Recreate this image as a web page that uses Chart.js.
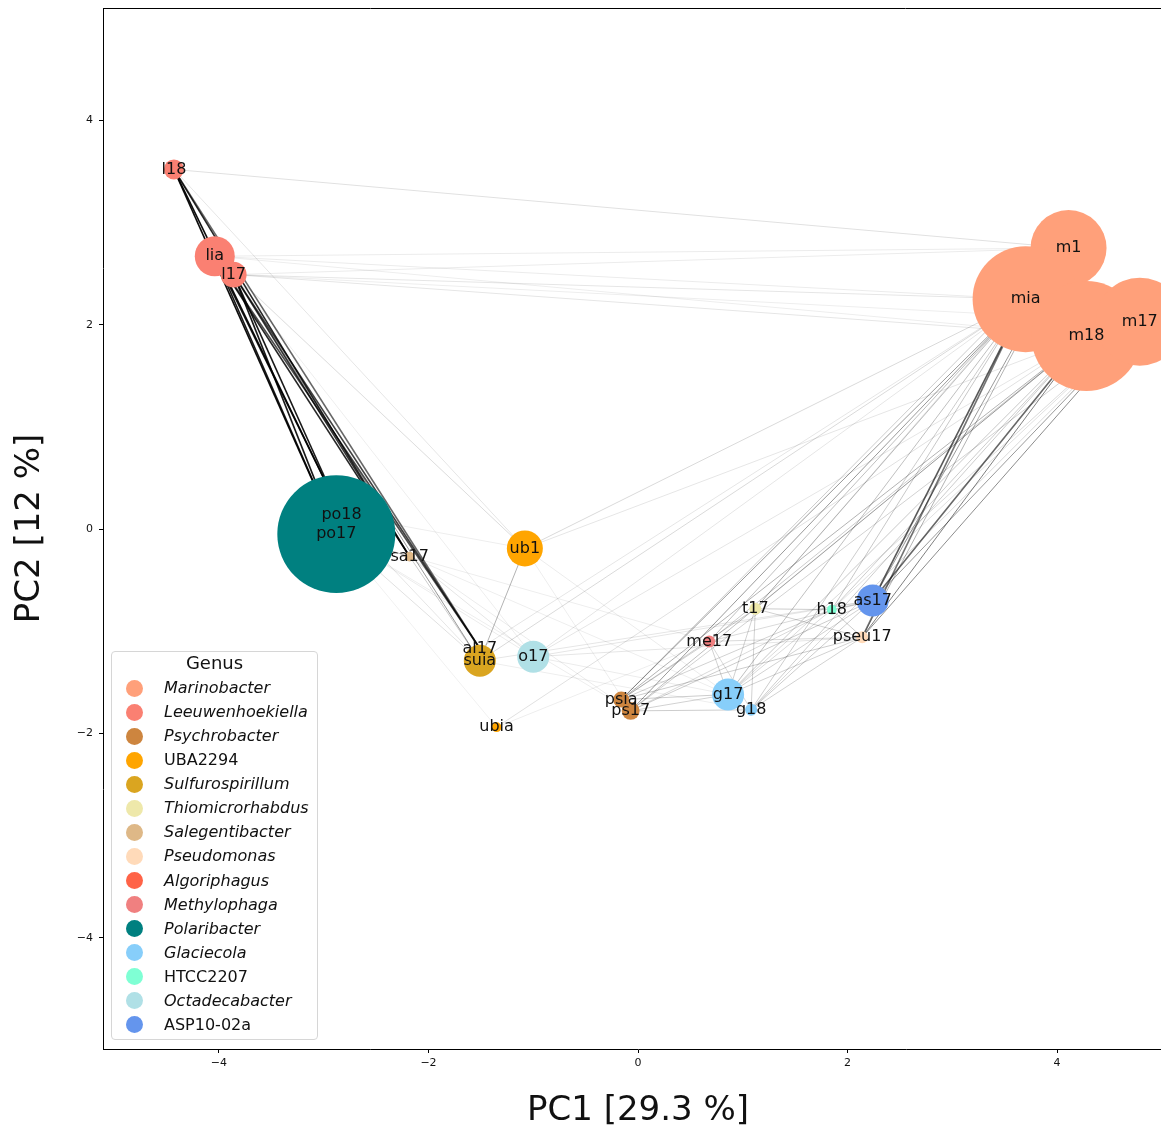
<!DOCTYPE html>
<html>
<head>
<meta charset="utf-8">
<script src="https://cdn.jsdelivr.net/npm/chart.js@4"></script>
<style>
  html, body { margin: 0; padding: 0; background: #fff; overflow: hidden; }
  #wrap { position: relative; width: 1180px; height: 1132px; }
  #chart { display: block; }
  .legend {
    position: absolute; left: 111px; top: 651px; width: 205px; height: 387px;
    border: 1px solid #d6d6d6; border-radius: 4px; background: rgba(255,255,255,0.85);
    font-family: "DejaVu Sans"; color: #111;
  }
  .legend .title { position: absolute; left: 0; right: 0; top: 0; text-align: center; font-size: 18px; line-height: 22px; }
  .legend .row { position: absolute; left: 0; height: 24px; line-height: 24px; font-size: 16px; white-space: nowrap; }
  .legend .dot { position: absolute; left: 14px; top: 3.5px; width: 17px; height: 17px; border-radius: 50%; }
  .legend .lab { position: absolute; left: 52px; top: 0; }
</style>
</head>
<body>
<div id="wrap">
  <canvas id="chart" width="1180" height="1132"></canvas>
  <div class="legend" id="legend"></div>
</div>
<script>
// genus legend
const genusNames = ["Marinobacter", "Leeuwenhoekiella", "Psychrobacter", "UBA2294", "Sulfurospirillum",
  "Thiomicrorhabdus", "Salegentibacter", "Pseudomonas", "Algoriphagus", "Methylophaga",
  "Polaribacter", "Glaciecola", "HTCC2207", "Octadecabacter", "ASP10-02a"];
const genusColors = ["#FFA07A", "#FA8072", "#CD853F", "#FFA500", "#DAA520",
  "#EEE8AA", "#DEB887", "#FFDAB9", "#FF6347", "#F08080",
  "#008080", "#87CEFA", "#7FFFD4", "#B0E0E6", "#6495ED"];
const notItalic = ["UBA2294", "HTCC2207", "ASP10-02a"];

// nodes (PC1, PC2, abundance, genus)
const nodeNames = ["l18", "lia", "l17", "m1", "mia", "m18", "m17", "po18", "po17", "sa17",
  "ub1", "al17", "suia", "o17", "ubia", "t17", "h18", "as17", "pseu17", "me17",
  "psia", "ps17", "g17", "g18"];
const nodeX = [-4.43, -4.04, -3.86, 4.11, 3.70, 4.28, 4.79, -2.83, -2.88, -2.18,
  -1.08, -1.51, -1.51, -1.00, -1.35, 1.12, 1.85, 2.24, 2.14, 0.68,
  -0.16, -0.07, 0.86, 1.08];
const nodeY = [3.52, 2.67, 2.49, 2.75, 2.25, 1.89, 2.03, 0.14, -0.05, -0.27,
  -0.19, -1.17, -1.29, -1.25, -1.94, -0.78, -0.79, -0.70, -1.06, -1.10,
  -1.67, -1.78, -1.62, -1.77];
const nodeAbund = [25, 100, 42, 361, 702, 756, 484, 225, 870, 6,
  81, 2, 64, 64, 6, 9, 6, 64, 9, 9,
  16, 20, 64, 9];
const nodeGenus = ["Leeuwenhoekiella", "Leeuwenhoekiella", "Leeuwenhoekiella", "Marinobacter", "Marinobacter",
  "Marinobacter", "Marinobacter", "Polaribacter", "Polaribacter", "Salegentibacter",
  "UBA2294", "Algoriphagus", "Sulfurospirillum", "Octadecabacter", "UBA2294",
  "Thiomicrorhabdus", "HTCC2207", "ASP10-02a", "Pseudomonas", "Methylophaga",
  "Psychrobacter", "Psychrobacter", "Glaciecola", "Glaciecola"];

// edges: [from, to, correlation strength]
const edges = [
  ["l18", "po18", .95], ["l18", "po17", .95], ["lia", "po18", .9], ["lia", "po17", .9],
  ["l17", "po18", .9], ["l17", "po17", .9], ["l18", "sa17", .85], ["lia", "sa17", .85],
  ["l17", "sa17", .8], ["l18", "al17", .6], ["lia", "al17", .7], ["l17", "al17", .75],
  ["l17", "suia", .4],
  ["l18", "m1", .12], ["l18", "ub1", .1], ["lia", "m1", .08], ["lia", "mia", .08],
  ["lia", "m18", .07], ["l17", "m1", .08], ["l17", "mia", .1], ["l17", "m18", .1],
  ["l17", "m17", .07], ["lia", "ub1", .07], ["l17", "ub1", .08], ["l17", "o17", .07],
  ["po17", "suia", .12], ["po18", "suia", .1], ["po17", "o17", .08], ["po17", "ubia", .06],
  ["po17", "ps17", .07], ["po18", "ub1", .07], ["sa17", "o17", .1], ["sa17", "g17", .07],
  ["sa17", "ps17", .08], ["sa17", "suia", .2], ["po17", "sa17", .3], ["ub1", "suia", .3],
  ["ub1", "mia", .15], ["ub1", "m18", .1], ["ub1", "g17", .08], ["ub1", "ps17", .07],
  ["suia", "mia", .15], ["al17", "mia", .1], ["suia", "as17", .1], ["o17", "mia", .1],
  ["o17", "m18", .1], ["o17", "as17", .1], ["o17", "pseu17", .1], ["o17", "g17", .08],
  ["ubia", "m18", .12], ["ubia", "me17", .07], ["suia", "g18", .07], ["sa17", "me17", .07],
  ["psia", "mia", .4], ["ps17", "mia", .4], ["psia", "m18", .3], ["ps17", "m18", .25],
  ["psia", "m1", .2], ["ps17", "m17", .18], ["me17", "mia", .25], ["me17", "m18", .2],
  ["t17", "mia", .25], ["t17", "m18", .2], ["t17", "m1", .12], ["g17", "mia", .25],
  ["g17", "m18", .22], ["g17", "m17", .15], ["g18", "mia", .2], ["g18", "m18", .2],
  ["g18", "m17", .15], ["h18", "mia", .22], ["h18", "m18", .2], ["h18", "m17", .12],
  ["as17", "mia", .65], ["as17", "m18", .6], ["as17", "m1", .4], ["as17", "m17", .4],
  ["pseu17", "mia", .55], ["pseu17", "m18", .5], ["pseu17", "m17", .45], ["pseu17", "m1", .3],
  ["t17", "h18", .2], ["t17", "g17", .18], ["t17", "g18", .18], ["t17", "psia", .2],
  ["t17", "pseu17", .18], ["h18", "as17", .2], ["h18", "pseu17", .2], ["h18", "g17", .15],
  ["h18", "ps17", .15], ["me17", "g17", .18], ["me17", "psia", .18], ["me17", "pseu17", .15],
  ["me17", "g18", .15], ["psia", "g17", .2], ["ps17", "g18", .2], ["ps17", "g17", .18],
  ["psia", "pseu17", .2], ["ps17", "as17", .2], ["psia", "h18", .18], ["g17", "pseu17", .18],
  ["g18", "pseu17", .18], ["g18", "as17", .2], ["g17", "as17", .18], ["me17", "as17", .15]
];

const xTicks = [-4, -2, 0, 2, 4];
const yTicks = [-4, -2, 0, 2, 4];

const FONT = "DejaVu Sans";
const colorOf = g => genusColors[genusNames.indexOf(g)];
const fmt = v => (v < 0 ? "\u2212" + Math.abs(v) : String(v));
const pt = name => {
  const i = nodeNames.indexOf(name);
  return { x: nodeX[i], y: nodeY[i] };
};

// legend (html)
const leg = document.getElementById("legend");
leg.innerHTML = '<div class="title">Genus</div>' + genusNames.map((g, i) =>
  `<div class="row" style="top:${(24 + i * 24.07).toFixed(2)}px">` +
  `<span class="dot" style="background:${genusColors[i]}"></span>` +
  `<span class="lab" style="font-style:${notItalic.includes(g) ? "normal" : "italic"}">${g}</span></div>`
).join("");

const nodeSet = {
  type: "bubble",
  order: 0,
  data: nodeNames.map((n, i) => ({ x: nodeX[i], y: nodeY[i], r: Math.sqrt(nodeAbund[i]) * 2 })),
  backgroundColor: nodeGenus.map(colorOf),
  borderWidth: 0,
  hoverRadius: 0
};

const edgeSets = edges.map(([a, b, w]) => ({
  type: "line",
  order: 1,
  data: [pt(a), pt(b)],
  borderColor: `rgba(0,0,0,${w})`,
  borderWidth: w > 0.5 ? 1.6 : 1,
  pointRadius: 0,
  fill: false,
  tension: 0
}));

// node names on top of everything
const labelPlugin = {
  id: "labels",
  afterDatasetsDraw(chart) {
    const { ctx, scales: { x, y } } = chart;
    ctx.save();
    ctx.font = `16px "${FONT}"`;
    ctx.fillStyle = "#111";
    ctx.textAlign = "center";
    ctx.textBaseline = "middle";
    nodeNames.forEach((n, i) => {
      ctx.fillText(n, x.getPixelForValue(nodeX[i]), y.getPixelForValue(nodeY[i]));
    });
    // top spine
    const a = chart.chartArea;
    ctx.strokeStyle = "#000";
    ctx.lineWidth = 1;
    ctx.beginPath();
    ctx.moveTo(a.left, a.top + 0.5);
    ctx.lineTo(a.right, a.top + 0.5);
    ctx.stroke();
    ctx.restore();
  }
};

new Chart(document.getElementById("chart"), {
  type: "bubble",
  data: { datasets: [nodeSet, ...edgeSets] },
  options: {
    responsive: false,
    animation: false,
    events: [],
    layout: { autoPadding: false, padding: { top: 8, right: 7, left: 0, bottom: 0 } },
    plugins: { legend: { display: false }, tooltip: { enabled: false } },
    scales: {
      x: {
        type: "linear",
        min: -5.107,
        max: 5.107,
        afterBuildTicks: s => { s.ticks = xTicks.map(v => ({ value: v })); },
        afterFit: s => { s.height = 83; s.paddingLeft = 0; s.paddingRight = 0; },
        grid: { drawOnChartArea: false, drawTicks: true, tickLength: 4, color: "#000" },
        border: { display: true, color: "#000", width: 1 },
        ticks: { font: { family: FONT, size: 11 }, color: "#111", padding: 4, maxRotation: 0, callback: fmt },
        title: { display: true, text: "PC1 [29.3 %]", font: { family: FONT, size: 34 }, color: "#111", padding: { top: 0, bottom: 0 } }
      },
      y: {
        type: "linear",
        min: -5.09,
        max: 5.10,
        afterBuildTicks: s => { s.ticks = yTicks.map(v => ({ value: v })); },
        afterFit: s => { s.width = 103; s.paddingTop = 0; s.paddingBottom = 0; },
        grid: { drawOnChartArea: false, drawTicks: true, tickLength: 4, color: "#000" },
        border: { display: true, color: "#000", width: 1 },
        ticks: { font: { family: FONT, size: 11 }, color: "#111", padding: 6, callback: fmt },
        title: { display: true, text: "PC2 [12 %]", font: { family: FONT, size: 34 }, color: "#111", padding: { top: 10, bottom: 0 } }
      }
    }
  },
  plugins: [labelPlugin]
});
</script>
</body>
</html>
